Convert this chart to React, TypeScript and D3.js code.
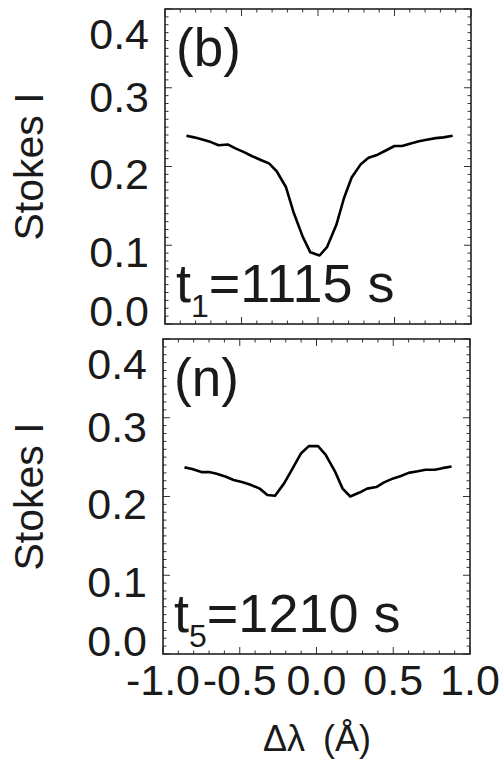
import React from "react";
import * as d3 from "d3";

// wavelength grid (Å)
const dLambda = [
  -0.86, -0.81, -0.75, -0.70, -0.65, -0.59, -0.54, -0.48, -0.43, -0.37, -0.32,
  -0.27, -0.21, -0.16, -0.10, -0.05, 0.01, 0.06, 0.12, 0.17, 0.22, 0.28,
  0.33, 0.39, 0.44, 0.50, 0.55, 0.60, 0.66, 0.71, 0.77, 0.82, 0.88,
];

// panel (b), t1 = 1115 s
const stokesB = [
  0.239, 0.237, 0.234, 0.231, 0.227, 0.228, 0.223, 0.218, 0.213, 0.208, 0.204,
  0.194, 0.174, 0.142, 0.111, 0.091, 0.087, 0.098, 0.126, 0.160, 0.186, 0.203,
  0.211, 0.215, 0.220, 0.226, 0.226, 0.229, 0.232, 0.234, 0.236, 0.237, 0.239,
];

// panel (n), t5 = 1210 s
const stokesN = [
  0.237, 0.235, 0.231, 0.231, 0.229, 0.225, 0.221, 0.218, 0.215, 0.210, 0.202,
  0.201, 0.217, 0.234, 0.255, 0.264, 0.264, 0.253, 0.232, 0.210, 0.200, 0.205,
  0.210, 0.212, 0.218, 0.223, 0.226, 0.230, 0.232, 0.234, 0.234, 0.236, 0.238,
];

const panelLetters = ["(b)", "(n)"];
const timeSubs = ["1", "5"];
const timeValues = ["=1115 s", "=1210 s"];

const yTickValues = [0.0, 0.1, 0.2, 0.3, 0.4];
const yTickLabels = ["0.0", "0.1", "0.2", "0.3", "0.4"];
const xTickValues = [-1.0, -0.5, 0.0, 0.5, 1.0];
const xTickLabels = ["-1.0", "-0.5", "0.0", "0.5", "1.0"];

const FONT = "'Liberation Sans', Arial, Helvetica, sans-serif";

// label nudges (IDL keeps end labels inside the frame)
const yLabelNudge = [-13, 7, 7.5, 9, 25];

type PanelProps = {
  top: number;
  bottom: number;
  left: number;
  right: number;
  values: number[];
  letter: string;
  sub: string;
  time: string;
  showXLabels: boolean;
};

function Panel({ top, bottom, left, right, values, letter, sub, time, showXLabels }: PanelProps) {
  const x = d3.scaleLinear().domain([-1, 1]).range([left, right]);
  const y = d3.scaleLinear().domain([0, 0.4]).range([bottom, top]);
  const line = d3
    .line<number>()
    .x((_, i) => x(dLambda[i]))
    .y((d) => y(d));

  const xMinor = d3.range(-10, 11).map((k) => k / 10);
  const yMinor = d3.range(0, 41).map((k) => k / 100);
  const isMajorX = (v: number) => Math.abs(v * 2 - Math.round(v * 2)) < 1e-6;
  const isMajorY = (v: number) => Math.abs(v * 10 - Math.round(v * 10)) < 1e-6;
  const maj = 7;
  const min = 3.5;
  const tickColor = "#333";

  return (
    <g>
      {xMinor.map((v, i) => {
        const L = isMajorX(v) ? maj : min;
        return (
          <g key={"xt" + i} stroke={tickColor} strokeWidth={1}>
            <line x1={x(v)} x2={x(v)} y1={bottom} y2={bottom - L} />
            <line x1={x(v)} x2={x(v)} y1={top} y2={top + L} />
          </g>
        );
      })}
      {yMinor.map((v, i) => {
        const L = isMajorY(v) ? maj : min;
        return (
          <g key={"yt" + i} stroke={tickColor} strokeWidth={1}>
            <line x1={left} x2={left + L} y1={y(v)} y2={y(v)} />
            <line x1={right} x2={right - L} y1={y(v)} y2={y(v)} />
          </g>
        );
      })}
      <rect
        x={left}
        y={top}
        width={right - left}
        height={bottom - top}
        fill="none"
        stroke="#222"
        strokeWidth={1.6}
      />
      <path d={line(values) || ""} fill="none" stroke="#000" strokeWidth={2.6} strokeLinejoin="round" />

      {yTickValues.map((v, i) => (
        <text
          key={"yl" + i}
          x={left - 16}
          y={y(v) + yLabelNudge[i]}
          textAnchor="end"
          dominantBaseline="central"
          fontFamily={FONT}
          fontSize={43}
          fill="#1a1a1a"
        >
          {yTickLabels[i]}
        </text>
      ))}

      {showXLabels &&
        xTickValues.map((v, i) => (
          <text
            key={"xl" + i}
            x={x(v)}
            y={bottom + 41}
            textAnchor="middle"
            fontFamily={FONT}
            fontSize={43}
            fill="#1a1a1a"
          >
            {xTickLabels[i]}
          </text>
        ))}

      <text
        transform={`translate(43,${(top + bottom) / 2}) rotate(-90)`}
        textAnchor="middle"
        fontFamily={FONT}
        fontSize={41}
        fill="#1a1a1a"
      >
        Stokes I
      </text>

      <text x={left + 11} y={top + 57} fontFamily={FONT} fontSize={53} fill="#1a1a1a">
        {letter}
      </text>

      <text x={left + 11} y={top + 293} fontFamily={FONT} fontSize={54} fill="#1a1a1a">
        <tspan>t</tspan>
        <tspan fontSize={32} dy={15}>
          {sub}
        </tspan>
        <tspan dy={-15}>{time}</tspan>
      </text>
    </g>
  );
}

export default function App() {
  const panels = [
    { top: 9, bottom: 324, left: 165, right: 471, values: stokesB },
    { top: 339, bottom: 654, left: 163, right: 470, values: stokesN },
  ];
  return (
    <svg
      width={499}
      height={765}
      viewBox="0 0 499 765"
      style={{ position: "absolute", left: 0, top: 0, background: "#fff" }}
    >
      <rect width={499} height={765} fill="#fff" />
      {panels.map((p, i) => (
        <Panel
          key={i}
          {...p}
          letter={panelLetters[i]}
          sub={timeSubs[i]}
          time={timeValues[i]}
          showXLabels={i === 1}
        />
      ))}
      <text x={317} y={751} textAnchor="middle" fontFamily={FONT} fontSize={36} fill="#1a1a1a">
        <tspan>Δλ</tspan>
        <tspan dx={8}> (Å)</tspan>
      </text>
    </svg>
  );
}
